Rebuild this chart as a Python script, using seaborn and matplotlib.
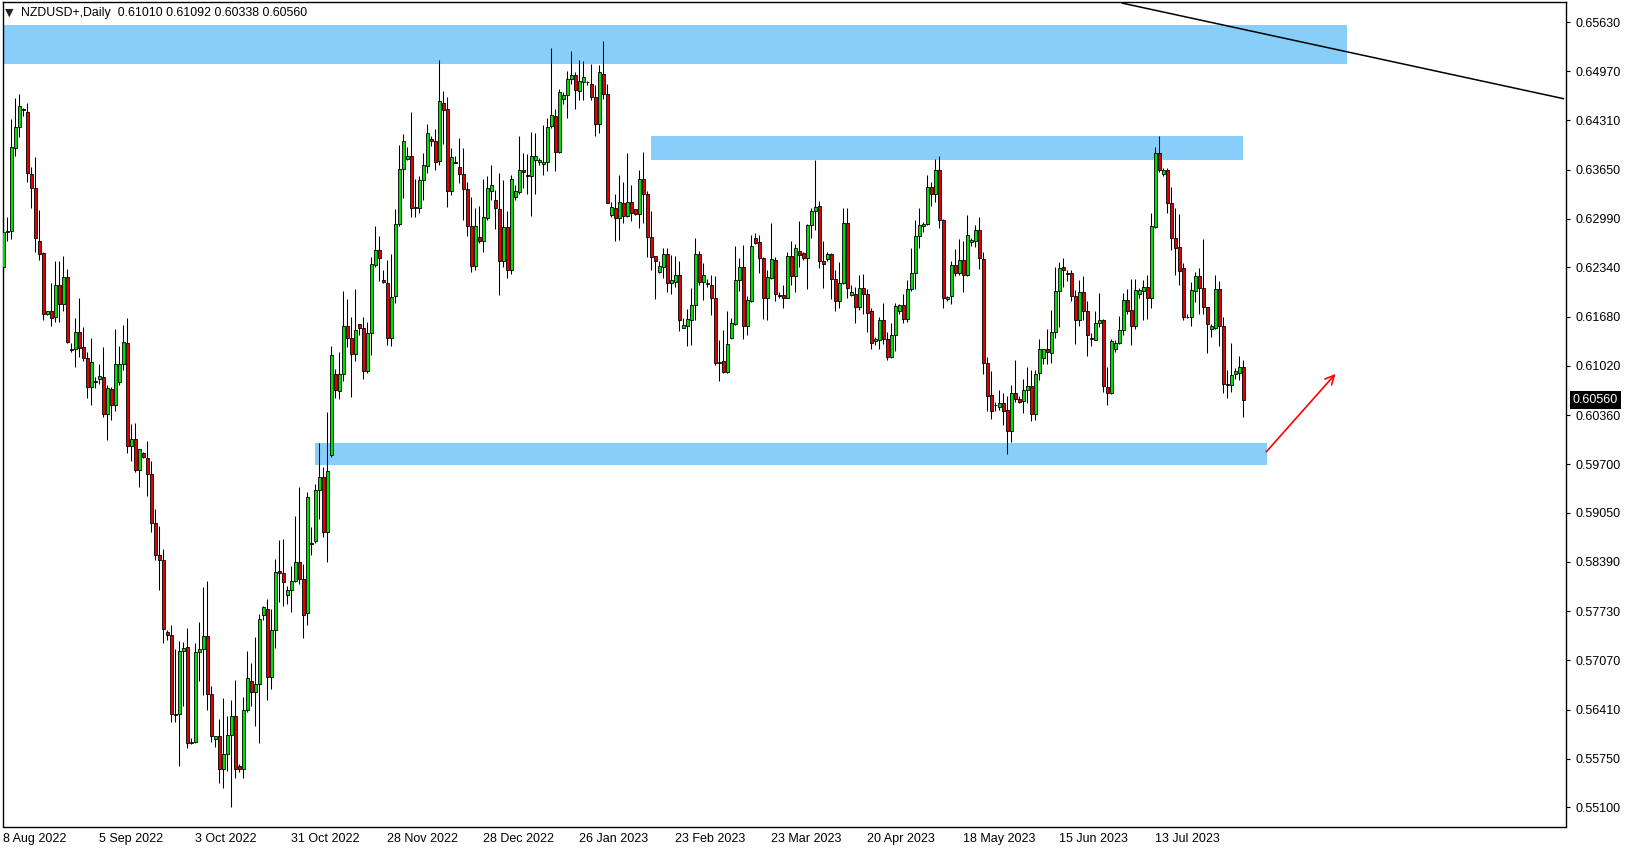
"""NZDUSD daily candles with supply/demand zones, drawn MT4-style."""

import matplotlib
matplotlib.use("Agg")
import matplotlib.pyplot as plt
import matplotlib.transforms as mtransforms
import numpy as np
import seaborn as sns

SYMBOL = "NZDUSD+,Daily"

OPEN = [
    0.6234, 0.6282, 0.6283, 0.6394, 0.6422, 0.6447, 0.6442, 0.6359, 0.6341, 0.6269,
    0.6253, 0.6172, 0.6175, 0.6167, 0.6211, 0.6185, 0.6221, 0.6124, 0.6124, 0.6148,
    0.6127, 0.6112, 0.6073, 0.6082, 0.6084, 0.6087, 0.6037, 0.6071, 0.6050, 0.6081,
    0.6104, 0.6132, 0.5995, 0.6004, 0.5963, 0.5985, 0.5979, 0.5957, 0.5891, 0.5849,
    0.5842, 0.5745, 0.5741, 0.5635, 0.5635, 0.5719, 0.5725, 0.5596, 0.5597, 0.5718,
    0.5722, 0.5740, 0.5662, 0.5602, 0.5605, 0.5561, 0.5582, 0.5607, 0.5632, 0.5565,
    0.5562, 0.5641, 0.5680, 0.5665, 0.5675, 0.5768, 0.5776, 0.5685, 0.5748, 0.5827,
    0.5824, 0.5795, 0.5801, 0.5814, 0.5839, 0.5816, 0.5770, 0.5864, 0.5867, 0.5935,
    0.5953, 0.5879, 0.5982, 0.6091, 0.6068, 0.6091, 0.6156, 0.6140, 0.6118, 0.6158,
    0.6153, 0.6095, 0.6146, 0.6237, 0.6257, 0.6217, 0.6213, 0.6140, 0.6195, 0.6292,
    0.6366, 0.6380, 0.6383, 0.6314, 0.6313, 0.6351, 0.6370, 0.6406, 0.6403, 0.6377,
    0.6455, 0.6446, 0.6337, 0.6376, 0.6369, 0.6359, 0.6339, 0.6289, 0.6236, 0.6275,
    0.6269, 0.6300, 0.6337, 0.6324, 0.6312, 0.6243, 0.6288, 0.6230, 0.6328, 0.6335,
    0.6364, 0.6358, 0.6357, 0.6378, 0.6375, 0.6372, 0.6375, 0.6423, 0.6437, 0.6389,
    0.6460, 0.6465, 0.6486, 0.6492, 0.6471, 0.6483, 0.6483, 0.6480, 0.6463, 0.6426,
    0.6494, 0.6466, 0.6304, 0.6313, 0.6300, 0.6321, 0.6303, 0.6322, 0.6312, 0.6305,
    0.6353, 0.6332, 0.6275, 0.6249, 0.6228, 0.6235, 0.6252, 0.6213, 0.6215, 0.6224,
    0.6153, 0.6155, 0.6163, 0.6184, 0.6252, 0.6215, 0.6213, 0.6211, 0.6193, 0.6106,
    0.6108, 0.6094, 0.6139, 0.6158, 0.6217, 0.6234, 0.6155, 0.6189, 0.6274, 0.6268,
    0.6246, 0.6193, 0.6220, 0.6244, 0.6197, 0.6197, 0.6193, 0.6249, 0.6223, 0.6256,
    0.6253, 0.6246, 0.6291, 0.6310, 0.6316, 0.6243, 0.6245, 0.6252, 0.6218, 0.6189,
    0.6213, 0.6294, 0.6197, 0.6199, 0.6181, 0.6207, 0.6199, 0.6175, 0.6135, 0.6136,
    0.6163, 0.6138, 0.6114, 0.6144, 0.6175, 0.6184, 0.6165, 0.6205, 0.6226, 0.6276,
    0.6290, 0.6292, 0.6342, 0.6332, 0.6365, 0.6297, 0.6192, 0.6195, 0.6237, 0.6227,
    0.6244, 0.6224, 0.6268, 0.6270, 0.6284, 0.6245, 0.6106, 0.6063, 0.6049, 0.6047,
    0.6052, 0.6043, 0.6015, 0.6066, 0.6058, 0.6055, 0.6070, 0.6075, 0.6037, 0.6092,
    0.6112, 0.6124, 0.6119, 0.6147, 0.6202, 0.6234, 0.6225, 0.6227, 0.6196, 0.6163,
    0.6201, 0.6176, 0.6140, 0.6137, 0.6159, 0.6163, 0.6074, 0.6065, 0.6125, 0.6132,
    0.6150, 0.6190, 0.6177, 0.6155, 0.6199, 0.6202, 0.6208, 0.6193, 0.6288, 0.6387,
    0.6359, 0.6365, 0.6321, 0.6274, 0.6261, 0.6233, 0.6167, 0.6168, 0.6202, 0.6223,
    0.6207, 0.6181, 0.6152, 0.6153, 0.6205, 0.6155, 0.6078, 0.6076, 0.6091, 0.6093,
    0.61010,
]

HIGH = [
    0.6302, 0.6301, 0.6433, 0.6461, 0.6466, 0.6448, 0.6454, 0.6368, 0.6382, 0.6311,
    0.6255, 0.6176, 0.6213, 0.6243, 0.6242, 0.6249, 0.6232, 0.6132, 0.6166, 0.6193,
    0.6154, 0.6121, 0.6139, 0.6087, 0.6104, 0.6127, 0.6076, 0.6074, 0.6151, 0.6129,
    0.6157, 0.6166, 0.6024, 0.6025, 0.5991, 0.5987, 0.6001, 0.5974, 0.5910, 0.5887,
    0.5856, 0.5748, 0.5755, 0.5722, 0.5733, 0.5732, 0.5751, 0.5603, 0.5731, 0.5758,
    0.5806, 0.5814, 0.5673, 0.5606, 0.5629, 0.5657, 0.5632, 0.5654, 0.5681, 0.5568,
    0.5658, 0.5720, 0.5703, 0.5739, 0.5769, 0.5780, 0.5790, 0.5776, 0.5843, 0.5869,
    0.5870, 0.5807, 0.5833, 0.5900, 0.5939, 0.5836, 0.5933, 0.5886, 0.5944, 0.5998,
    0.5967, 0.6040, 0.6128, 0.6098, 0.6121, 0.6202, 0.6192, 0.6168, 0.6205, 0.6158,
    0.6168, 0.6161, 0.6248, 0.6289, 0.6276, 0.6231, 0.6244, 0.6252, 0.6312, 0.6398,
    0.6413, 0.6395, 0.6442, 0.6352, 0.6356, 0.6387, 0.6426, 0.6410, 0.6420, 0.6512,
    0.6470, 0.6462, 0.6394, 0.6383, 0.6407, 0.6394, 0.6349, 0.6329, 0.6313, 0.6316,
    0.6353, 0.6357, 0.6371, 0.6338, 0.6361, 0.6351, 0.6309, 0.6358, 0.6344, 0.6410,
    0.6387, 0.6386, 0.6415, 0.6414, 0.6381, 0.6425, 0.6435, 0.6528, 0.6447, 0.6473,
    0.6469, 0.6497, 0.6524, 0.6496, 0.6512, 0.6511, 0.6484, 0.6507, 0.6478, 0.6506,
    0.6537, 0.6480, 0.6322, 0.6333, 0.6358, 0.6348, 0.6387, 0.6345, 0.6312, 0.6365,
    0.6389, 0.6336, 0.6309, 0.6249, 0.6242, 0.6260, 0.6260, 0.6250, 0.6249, 0.6243,
    0.6166, 0.6178, 0.6206, 0.6274, 0.6256, 0.6240, 0.6218, 0.6224, 0.6222, 0.6137,
    0.6150, 0.6176, 0.6166, 0.6263, 0.6246, 0.6264, 0.6196, 0.6277, 0.6280, 0.6278,
    0.6248, 0.6231, 0.6293, 0.6248, 0.6201, 0.6210, 0.6254, 0.6269, 0.6265, 0.6296,
    0.6255, 0.6292, 0.6314, 0.6378, 0.6323, 0.6269, 0.6254, 0.6253, 0.6231, 0.6241,
    0.6313, 0.6313, 0.6210, 0.6208, 0.6224, 0.6225, 0.6205, 0.6179, 0.6141, 0.6168,
    0.6186, 0.6148, 0.6159, 0.6186, 0.6185, 0.6198, 0.6217, 0.6260, 0.6298, 0.6314,
    0.6295, 0.6358, 0.6348, 0.6379, 0.6383, 0.6299, 0.6196, 0.6242, 0.6259, 0.6272,
    0.6269, 0.6304, 0.6273, 0.6291, 0.6302, 0.6255, 0.6114, 0.6095, 0.6053, 0.6070,
    0.6065, 0.6061, 0.6076, 0.6110, 0.6061, 0.6084, 0.6100, 0.6096, 0.6096, 0.6138,
    0.6125, 0.6152, 0.6177, 0.6235, 0.6241, 0.6246, 0.6231, 0.6231, 0.6204, 0.6217,
    0.6222, 0.6189, 0.6146, 0.6176, 0.6200, 0.6165, 0.6101, 0.6138, 0.6136, 0.6169,
    0.6200, 0.6205, 0.6219, 0.6219, 0.6207, 0.6217, 0.6224, 0.6307, 0.6395, 0.6410,
    0.6367, 0.6367, 0.6342, 0.6313, 0.6305, 0.6240, 0.6171, 0.6214, 0.6228, 0.6233,
    0.6272, 0.6181, 0.6158, 0.6224, 0.6216, 0.6167, 0.6097, 0.6132, 0.6099, 0.6115,
    0.61092,
]

LOW = [
    0.6228, 0.6269, 0.6272, 0.6383, 0.6409, 0.6437, 0.6348, 0.6314, 0.6254, 0.6244,
    0.6164, 0.6170, 0.6155, 0.6161, 0.6161, 0.6175, 0.6132, 0.6120, 0.6100, 0.6114,
    0.6108, 0.6059, 0.6049, 0.6072, 0.6077, 0.6034, 0.6003, 0.6030, 0.6042, 0.6076,
    0.6096, 0.5985, 0.5975, 0.5960, 0.5939, 0.5978, 0.5928, 0.5879, 0.5841, 0.5802,
    0.5730, 0.5734, 0.5624, 0.5624, 0.5565, 0.5646, 0.5590, 0.5595, 0.5596, 0.5679,
    0.5661, 0.5640, 0.5597, 0.5591, 0.5543, 0.5536, 0.5559, 0.5511, 0.5550, 0.5558,
    0.5550, 0.5638, 0.5646, 0.5619, 0.5596, 0.5761, 0.5654, 0.5669, 0.5723, 0.5785,
    0.5780, 0.5782, 0.5772, 0.5812, 0.5809, 0.5737, 0.5754, 0.5849, 0.5864, 0.5897,
    0.5872, 0.5839, 0.5980, 0.6059, 0.6058, 0.6082, 0.6127, 0.6060, 0.6108, 0.6143,
    0.6085, 0.6092, 0.6117, 0.6235, 0.6216, 0.6213, 0.6130, 0.6128, 0.6186, 0.6290,
    0.6327, 0.6378, 0.6301, 0.6301, 0.6307, 0.6324, 0.6360, 0.6397, 0.6364, 0.6371,
    0.6399, 0.6315, 0.6331, 0.6374, 0.6347, 0.6298, 0.6276, 0.6228, 0.6231, 0.6267,
    0.6255, 0.6297, 0.6324, 0.6286, 0.6197, 0.6235, 0.6220, 0.6225, 0.6324, 0.6333,
    0.6341, 0.6333, 0.6303, 0.6333, 0.6371, 0.6358, 0.6363, 0.6421, 0.6363, 0.6388,
    0.6453, 0.6435, 0.6480, 0.6447, 0.6459, 0.6459, 0.6479, 0.6459, 0.6410, 0.6414,
    0.6460, 0.6320, 0.6302, 0.6269, 0.6271, 0.6293, 0.6301, 0.6296, 0.6304, 0.6287,
    0.6294, 0.6248, 0.6231, 0.6192, 0.6226, 0.6220, 0.6201, 0.6198, 0.6208, 0.6149,
    0.6153, 0.6129, 0.6130, 0.6163, 0.6210, 0.6190, 0.6208, 0.6170, 0.6103, 0.6082,
    0.6093, 0.6093, 0.6138, 0.6157, 0.6202, 0.6138, 0.6143, 0.6188, 0.6266, 0.6227,
    0.6165, 0.6163, 0.6219, 0.6189, 0.6193, 0.6179, 0.6193, 0.6211, 0.6201, 0.6235,
    0.6244, 0.6205, 0.6273, 0.6284, 0.6233, 0.6207, 0.6243, 0.6192, 0.6175, 0.6180,
    0.6212, 0.6193, 0.6195, 0.6160, 0.6177, 0.6171, 0.6148, 0.6125, 0.6130, 0.6125,
    0.6131, 0.6110, 0.6112, 0.6122, 0.6172, 0.6160, 0.6161, 0.6203, 0.6205, 0.6260,
    0.6281, 0.6291, 0.6316, 0.6322, 0.6287, 0.6180, 0.6189, 0.6185, 0.6222, 0.6224,
    0.6201, 0.6223, 0.6263, 0.6261, 0.6232, 0.6091, 0.6042, 0.6031, 0.6041, 0.6043,
    0.6023, 0.5984, 0.6000, 0.6054, 0.6052, 0.6039, 0.6052, 0.6028, 0.6029, 0.6083,
    0.6104, 0.6104, 0.6106, 0.6140, 0.6154, 0.6208, 0.6216, 0.6189, 0.6131, 0.6155,
    0.6163, 0.6115, 0.6128, 0.6136, 0.6154, 0.6067, 0.6049, 0.6064, 0.6120, 0.6131,
    0.6143, 0.6171, 0.6130, 0.6152, 0.6193, 0.6164, 0.6165, 0.6180, 0.6287, 0.6362,
    0.6357, 0.6307, 0.6258, 0.6224, 0.6211, 0.6164, 0.6166, 0.6155, 0.6188, 0.6172,
    0.6172, 0.6119, 0.6141, 0.6152, 0.6129, 0.6066, 0.6059, 0.6067, 0.6085, 0.6083,
    0.60338,
]

CLOSE = [
    0.6282, 0.6283, 0.6395, 0.6422, 0.6451, 0.6445, 0.6360, 0.6341, 0.6274, 0.6252,
    0.6171, 0.6175, 0.6166, 0.6211, 0.6185, 0.6221, 0.6134, 0.6123, 0.6148, 0.6126,
    0.6112, 0.6073, 0.6107, 0.6081, 0.6088, 0.6037, 0.6072, 0.6050, 0.6104, 0.6104,
    0.6134, 0.5995, 0.6004, 0.5963, 0.5990, 0.5980, 0.5957, 0.5891, 0.5849, 0.5842,
    0.5749, 0.5741, 0.5635, 0.5634, 0.5719, 0.5723, 0.5596, 0.5597, 0.5718, 0.5722,
    0.5740, 0.5662, 0.5606, 0.5606, 0.5561, 0.5582, 0.5607, 0.5632, 0.5561, 0.5562,
    0.5641, 0.5683, 0.5665, 0.5675, 0.5763, 0.5779, 0.5685, 0.5748, 0.5826, 0.5824,
    0.5812, 0.5801, 0.5814, 0.5839, 0.5816, 0.5768, 0.5926, 0.5863, 0.5935, 0.5953,
    0.5879, 0.5961, 0.6117, 0.6070, 0.6091, 0.6156, 0.6140, 0.6118, 0.6150, 0.6153,
    0.6095, 0.6146, 0.6238, 0.6257, 0.6246, 0.6214, 0.6140, 0.6194, 0.6292, 0.6366,
    0.6404, 0.6384, 0.6314, 0.6315, 0.6351, 0.6371, 0.6414, 0.6403, 0.6376, 0.6457,
    0.6445, 0.6337, 0.6382, 0.6374, 0.6359, 0.6339, 0.6289, 0.6236, 0.6289, 0.6269,
    0.6301, 0.6340, 0.6345, 0.6313, 0.6243, 0.6288, 0.6230, 0.6352, 0.6337, 0.6364,
    0.6362, 0.6357, 0.6383, 0.6384, 0.6378, 0.6375, 0.6422, 0.6438, 0.6389, 0.6469,
    0.6465, 0.6486, 0.6492, 0.6472, 0.6484, 0.6489, 0.6482, 0.6462, 0.6426, 0.6496,
    0.6467, 0.6321, 0.6315, 0.6300, 0.6322, 0.6303, 0.6322, 0.6307, 0.6305, 0.6353,
    0.6332, 0.6275, 0.6248, 0.6243, 0.6236, 0.6252, 0.6213, 0.6217, 0.6224, 0.6163,
    0.6157, 0.6165, 0.6184, 0.6252, 0.6215, 0.6224, 0.6212, 0.6193, 0.6106, 0.6107,
    0.6094, 0.6131, 0.6159, 0.6217, 0.6234, 0.6155, 0.6190, 0.6263, 0.6267, 0.6246,
    0.6193, 0.6221, 0.6245, 0.6199, 0.6196, 0.6193, 0.6249, 0.6223, 0.6260, 0.6251,
    0.6246, 0.6291, 0.6310, 0.6315, 0.6243, 0.6239, 0.6252, 0.6219, 0.6189, 0.6213,
    0.6294, 0.6206, 0.6201, 0.6181, 0.6206, 0.6199, 0.6173, 0.6133, 0.6138, 0.6163,
    0.6138, 0.6114, 0.6144, 0.6182, 0.6184, 0.6165, 0.6205, 0.6226, 0.6276, 0.6291,
    0.6292, 0.6342, 0.6332, 0.6365, 0.6297, 0.6193, 0.6194, 0.6237, 0.6227, 0.6244,
    0.6224, 0.6277, 0.6271, 0.6284, 0.6246, 0.6106, 0.6062, 0.6042, 0.6050, 0.6052,
    0.6041, 0.6015, 0.6066, 0.6058, 0.6054, 0.6070, 0.6075, 0.6037, 0.6091, 0.6124,
    0.6124, 0.6120, 0.6147, 0.6202, 0.6233, 0.6230, 0.6227, 0.6196, 0.6163, 0.6201,
    0.6176, 0.6144, 0.6138, 0.6160, 0.6163, 0.6075, 0.6066, 0.6135, 0.6132, 0.6150,
    0.6190, 0.6175, 0.6155, 0.6204, 0.6204, 0.6208, 0.6193, 0.6290, 0.6387, 0.6364,
    0.6365, 0.6321, 0.6274, 0.6260, 0.6229, 0.6168, 0.6168, 0.6204, 0.6223, 0.6207,
    0.6181, 0.6158, 0.6156, 0.6205, 0.6155, 0.6077, 0.6076, 0.6090, 0.6095, 0.6100,
    0.60560,
]

# bar index of each date label (every 24 bars, broker has Sunday candles)
DATE_BARS = [0, 24, 48, 72, 96, 120, 144, 168, 192, 216, 240, 264, 288]
DATE_LABELS = [
    "8 Aug 2022", "5 Sep 2022", "3 Oct 2022", "31 Oct 2022", "28 Nov 2022",
    "28 Dec 2022", "26 Jan 2023", "23 Feb 2023", "23 Mar 2023", "20 Apr 2023",
    "18 May 2023", "15 Jun 2023", "13 Jul 2023",
]

PRICE_TICKS = [
    0.65630, 0.64970, 0.64310, 0.63650, 0.62990, 0.62340, 0.61680, 0.61020, 0.60360,
    0.59700, 0.59050, 0.58390, 0.57730, 0.57070, 0.56410, 0.55750, 0.55100,
]

# drawn objects: (bar from, bar to), (price low, price high)
RESIST_TOP_BARS = (-5, 335.8)
RESIST_TOP_PRICE = (0.6507, 0.6559)
RESIST_MID_BARS = (161.9, 309.9)
RESIST_MID_PRICE = (0.6378, 0.6410)
SUPPORT_BARS = (77.9, 315.8)
SUPPORT_PRICE = (0.5969, 0.5998)
TREND_BARS = [279.7, 390.1]
TREND_PRICE = [0.65884, 0.64602]
ARROW_BARS = [315.3, 333.5]
ARROW_PRICE = [0.5984, 0.6094]

BULL = "#00E000"
BEAR = "#E00000"
ZONE = "#87CEFA"

sns.set_theme(style="white")
plt.rcParams["font.family"] = ["Liberation Sans", "DejaVu Sans"]

fig = plt.figure(figsize=(16.29, 8.5), dpi=100)
ax = fig.add_axes([2.7 / 1629, 23.5 / 850, 1563 / 1629, 824.5 / 850])

for bars, price in [(RESIST_TOP_BARS, RESIST_TOP_PRICE),
                    (RESIST_MID_BARS, RESIST_MID_PRICE),
                    (SUPPORT_BARS, SUPPORT_PRICE)]:
    ax.fill_between(bars, price[0], price[1], color=ZONE, lw=0, zorder=1)

o, h, l, c = (np.asarray(v) for v in (OPEN, HIGH, LOW, CLOSE))
x = np.arange(len(o))
up = c >= o
ax.vlines(x, l, h, color="black", lw=0.75, zorder=3)
ax.bar(
    x, np.maximum(np.abs(c - o), 0.00004), bottom=np.minimum(o, c), width=0.75,
    color=np.where(up, BULL, BEAR), edgecolor="black", linewidth=0.6, zorder=4,
)

ax.plot(TREND_BARS, TREND_PRICE, color="black", lw=1.1, zorder=2)
ax.annotate(
    "", xy=(ARROW_BARS[1], ARROW_PRICE[1]), xytext=(ARROW_BARS[0], ARROW_PRICE[0]),
    arrowprops=dict(arrowstyle="->", color="red", lw=1.2, mutation_scale=16),
    zorder=5,
)

ax.set_xlim(-0.15, 390.6)
ax.set_ylim(0.54843, 0.65899)

ax.yaxis.tick_right()
ax.set_yticks(PRICE_TICKS)
ax.set_yticklabels([f"{v:.5f}" for v in PRICE_TICKS])
ax.set_xticks(DATE_BARS)
ax.set_xticklabels(DATE_LABELS, ha="left")
ax.tick_params(axis="y", length=3, width=0.8, pad=4, labelsize=9, colors="black",
               direction="out")
ax.tick_params(axis="x", length=3, width=0.8, pad=2, labelsize=9, colors="black",
               direction="out")
ax.grid(False)
for side in ax.spines.values():
    side.set_visible(True)
    side.set_color("black")
    side.set_linewidth(1.0)

# current price box on the price scale
trans = mtransforms.blended_transform_factory(ax.transAxes, ax.transData)
ax.text(1.0045, c[-1], f"{c[-1]:.5f}", transform=trans, color="white", fontsize=9,
        va="center", ha="left", clip_on=False,
        bbox=dict(boxstyle="square,pad=0.25", fc="black", ec="none"))

# chart header
fig.text(4.5 / 1629, 1 - 12.5 / 850, "\u25bc", fontsize=8, va="center",
         family="DejaVu Sans")
fig.text(20.8 / 1629, 1 - 13.3 / 850,
         f"{SYMBOL}  {o[-1]:.5f} {h[-1]:.5f} {l[-1]:.5f} {c[-1]:.5f}",
         fontsize=8.9, va="center", color="black")

fig.savefig("out.png", dpi=100)
